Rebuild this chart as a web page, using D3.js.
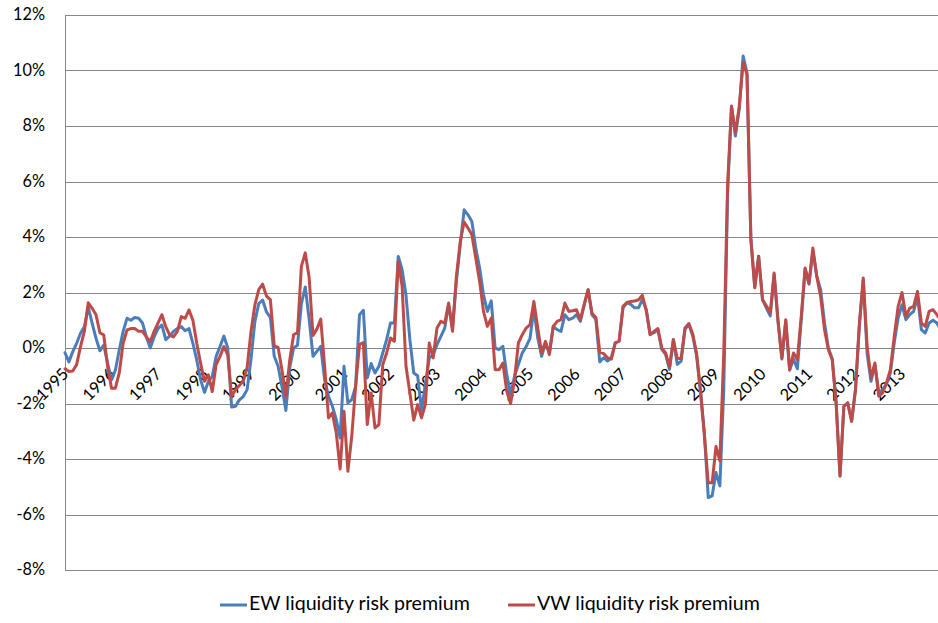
<!DOCTYPE html>
<html><head><meta charset="utf-8">
<script src="https://cdn.jsdelivr.net/npm/d3@7"></script>
<style>
html,body{margin:0;padding:0;background:#fff;}
svg{display:block;font-family:Lato,"Open Sans",sans-serif;}
</style></head>
<body><svg id="c" width="938" height="623"></svg>
<script>
const years = ["1995","1996","1997","1998","1999","2000","2001","2002","2003","2004","2005","2006","2007","2008","2009","2010","2011","2012","2013"];
const yTicks = [-8,-6,-4,-2,0,2,4,6,8,10,12];
const seriesNames = ["EW liquidity risk premium","VW liquidity risk premium"];
// monthly values (%), Jan 1995 onward
const ew = [-0.17,-0.5,-0.13,0.17,0.53,0.77,1.46,0.9,0.35,-0.1,0.1,-0.55,
-1.15,-0.8,-0.07,0.6,1.07,1.0,1.1,1.07,0.9,0.4,0.0,0.4,
0.7,0.83,0.3,0.43,0.6,0.7,0.77,0.62,0.7,0.17,-0.43,-1.15,
-1.6,-1.2,-1.03,-0.3,0.05,0.43,0.0,-2.13,-2.1,-1.87,-1.75,-1.5,
-0.4,0.95,1.6,1.73,1.3,1.1,-0.3,-0.66,-1.4,-2.25,-0.7,0.0,
0.1,1.6,2.2,1.05,-0.3,-0.12,0.06,-1.14,-1.74,-2.1,-2.58,-3.24,
-0.66,-1.98,-1.86,-1.38,1.2,1.36,-1.08,-0.56,-0.9,-0.66,-0.18,0.3,
0.9,0.9,3.3,2.82,1.9,0.3,-0.9,-1.0,-2.25,-1.3,-0.36,-0.24,
0.12,0.42,0.72,1.56,0.72,2.4,3.72,4.98,4.8,4.56,3.6,2.88,
1.92,1.32,1.7,0.0,-0.06,0.06,-0.96,-1.68,-1.02,-0.6,-0.18,0.05,
0.35,1.4,0.36,-0.3,0.18,-0.18,0.78,0.66,0.6,1.2,1.02,1.08,
1.2,0.96,1.55,2.1,1.2,1.03,-0.5,-0.35,-0.47,-0.35,0.19,0.25,
1.45,1.63,1.57,1.45,1.45,1.75,1.39,0.49,0.55,0.67,-0.05,-0.23,
-0.77,0.31,-0.59,-0.47,0.67,0.85,0.43,-0.29,-1.61,-3.05,-5.39,-5.33,
-4.49,-4.97,-1.5,5.6,8.72,7.64,8.6,10.52,9.92,3.91,2.2,3.31,
1.75,1.44,1.16,2.65,0.95,-0.4,0.95,-0.8,-0.4,-0.75,1.0,2.85,
2.3,3.5,2.6,2.1,0.9,0.0,-0.4,-1.98,-4.6,-2.1,-1.98,-2.64,
-1.5,0.8,2.45,-0.2,-1.2,-0.6,-1.6,-1.5,-1.3,-0.9,0.2,1.08,
1.56,1.02,1.2,1.32,1.86,0.66,0.54,0.9,1.0,0.9,0.65];
const vw = [-0.75,-0.85,-0.83,-0.6,0.05,0.6,1.63,1.43,1.2,0.55,0.47,-0.67,
-1.45,-1.45,-0.9,0.17,0.65,0.7,0.7,0.6,0.6,0.4,0.23,0.6,
0.9,1.2,0.77,0.47,0.4,0.6,1.13,1.07,1.37,1.0,0.17,-0.55,
-1.2,-0.97,-1.57,-0.6,-0.3,0.05,-0.25,-1.75,-1.5,-1.35,-1.2,-0.7,
0.6,1.55,2.1,2.3,1.87,1.74,0.08,0.02,-0.8,-1.75,-0.43,0.48,
0.55,2.94,3.43,2.55,0.45,0.68,1.04,-0.66,-2.52,-2.34,-3.06,-4.36,
-2.28,-4.44,-3.18,-1.38,0.12,0.2,-2.76,-1.62,-2.88,-2.76,-0.6,-0.18,
0.36,0.24,3.12,2.22,-0.66,-1.62,-2.6,-2.04,-2.52,-2.04,0.18,-0.36,
0.72,0.96,0.9,1.62,0.6,2.58,3.84,4.54,4.32,4.08,3.24,2.4,
1.32,0.78,1.08,-0.78,-0.78,-0.54,-1.56,-2.0,-1.14,0.18,0.48,0.72,
0.84,1.68,0.72,-0.18,0.24,-0.24,0.78,0.96,1.02,1.62,1.32,1.34,
1.38,1.02,1.58,2.1,1.25,1.1,-0.15,-0.2,-0.35,-0.4,0.18,0.25,
1.5,1.64,1.68,1.69,1.74,1.9,1.35,0.48,0.6,0.7,0.0,-0.18,
-0.7,0.3,-0.38,-0.38,0.72,0.88,0.5,-0.2,-1.5,-3.17,-4.86,-4.86,
-3.55,-4.07,-0.2,5.9,8.7,7.76,8.7,10.3,9.85,3.95,2.17,3.31,
1.74,1.52,1.26,2.7,1.0,-0.36,1.02,-0.78,-0.18,-0.42,1.14,2.88,
2.34,3.6,2.58,1.86,0.66,-0.06,-0.42,-1.98,-4.62,-2.1,-1.98,-2.64,
-1.5,0.9,2.52,0.06,-1.08,-0.54,-1.74,-1.62,-1.26,-0.78,0.42,1.5,
2.0,1.14,1.44,1.5,2.04,0.9,0.78,1.32,1.38,1.2,1.0];
const colors = ["#4A7EBB","#BE4B48"];

const svg = d3.select("#c");
const padLeft = 65, padTop = 15, padBottom = 570;
const nMonths = years.length * 12;
const x = d3.scaleLinear().domain([0, nMonths - 1]).range([padLeft, padLeft + (nMonths - 1) * 3.875]);
const y = d3.scaleLinear().domain([-8, 12]).range([padBottom, padTop]);

// gridlines
svg.append("g").selectAll("line").data(yTicks).join("line")
  .attr("x1", padLeft).attr("x2", 938)
  .attr("y1", d => Math.round(y(d)) + 0.5).attr("y2", d => Math.round(y(d)) + 0.5)
  .attr("stroke", "#868686").attr("stroke-width", 1);
// y axis line
svg.append("line").attr("x1", padLeft + 0.5).attr("x2", padLeft + 0.5)
  .attr("y1", Math.round(y(12)) + 0.5).attr("y2", Math.round(y(-8)) + 0.5)
  .attr("stroke", "#868686");

// y labels
svg.append("g").selectAll("text").data(yTicks).join("text")
  .attr("x", 45).attr("y", d => y(d) + 1)
  .attr("text-anchor", "end").attr("dominant-baseline", "middle")
  .attr("font-size", 16.3).attr("fill", "#000")
  .text(d => d + "%");

// year labels (category axis at 0)
svg.append("g").selectAll("text").data(years).join("text")
  .attr("transform", (d, i) => `translate(${x(i * 12) + 4.5},${y(0) + 27}) rotate(-45)`)
  .attr("text-anchor", "end").attr("font-size", 16.3).attr("fill", "#000")
  .text(d => d);

// lines
const line = d3.line().x((d, i) => x(i)).y(d => y(d));
[ew, vw].forEach((s, k) => {
  svg.append("path").datum(s).attr("d", line)
    .attr("fill", "none").attr("stroke", colors[k]).attr("stroke-width", 3)
    .attr("stroke-linejoin", "round").attr("stroke-linecap", "round");
});

// legend
const lg = [{x: 220, name: seriesNames[0], c: colors[0]}, {x: 508, name: seriesNames[1], c: colors[1]}];
const lgy = 605;
lg.forEach(o => {
  svg.append("line").attr("x1", o.x).attr("x2", o.x + 27).attr("y1", lgy).attr("y2", lgy)
    .attr("stroke", o.c).attr("stroke-width", 3);
  svg.append("text").attr("x", o.x + 29).attr("y", lgy).attr("dominant-baseline", "middle")
    .attr("font-size", 19.6).attr("fill", "#000").text(o.name);
});
</script></body></html>
